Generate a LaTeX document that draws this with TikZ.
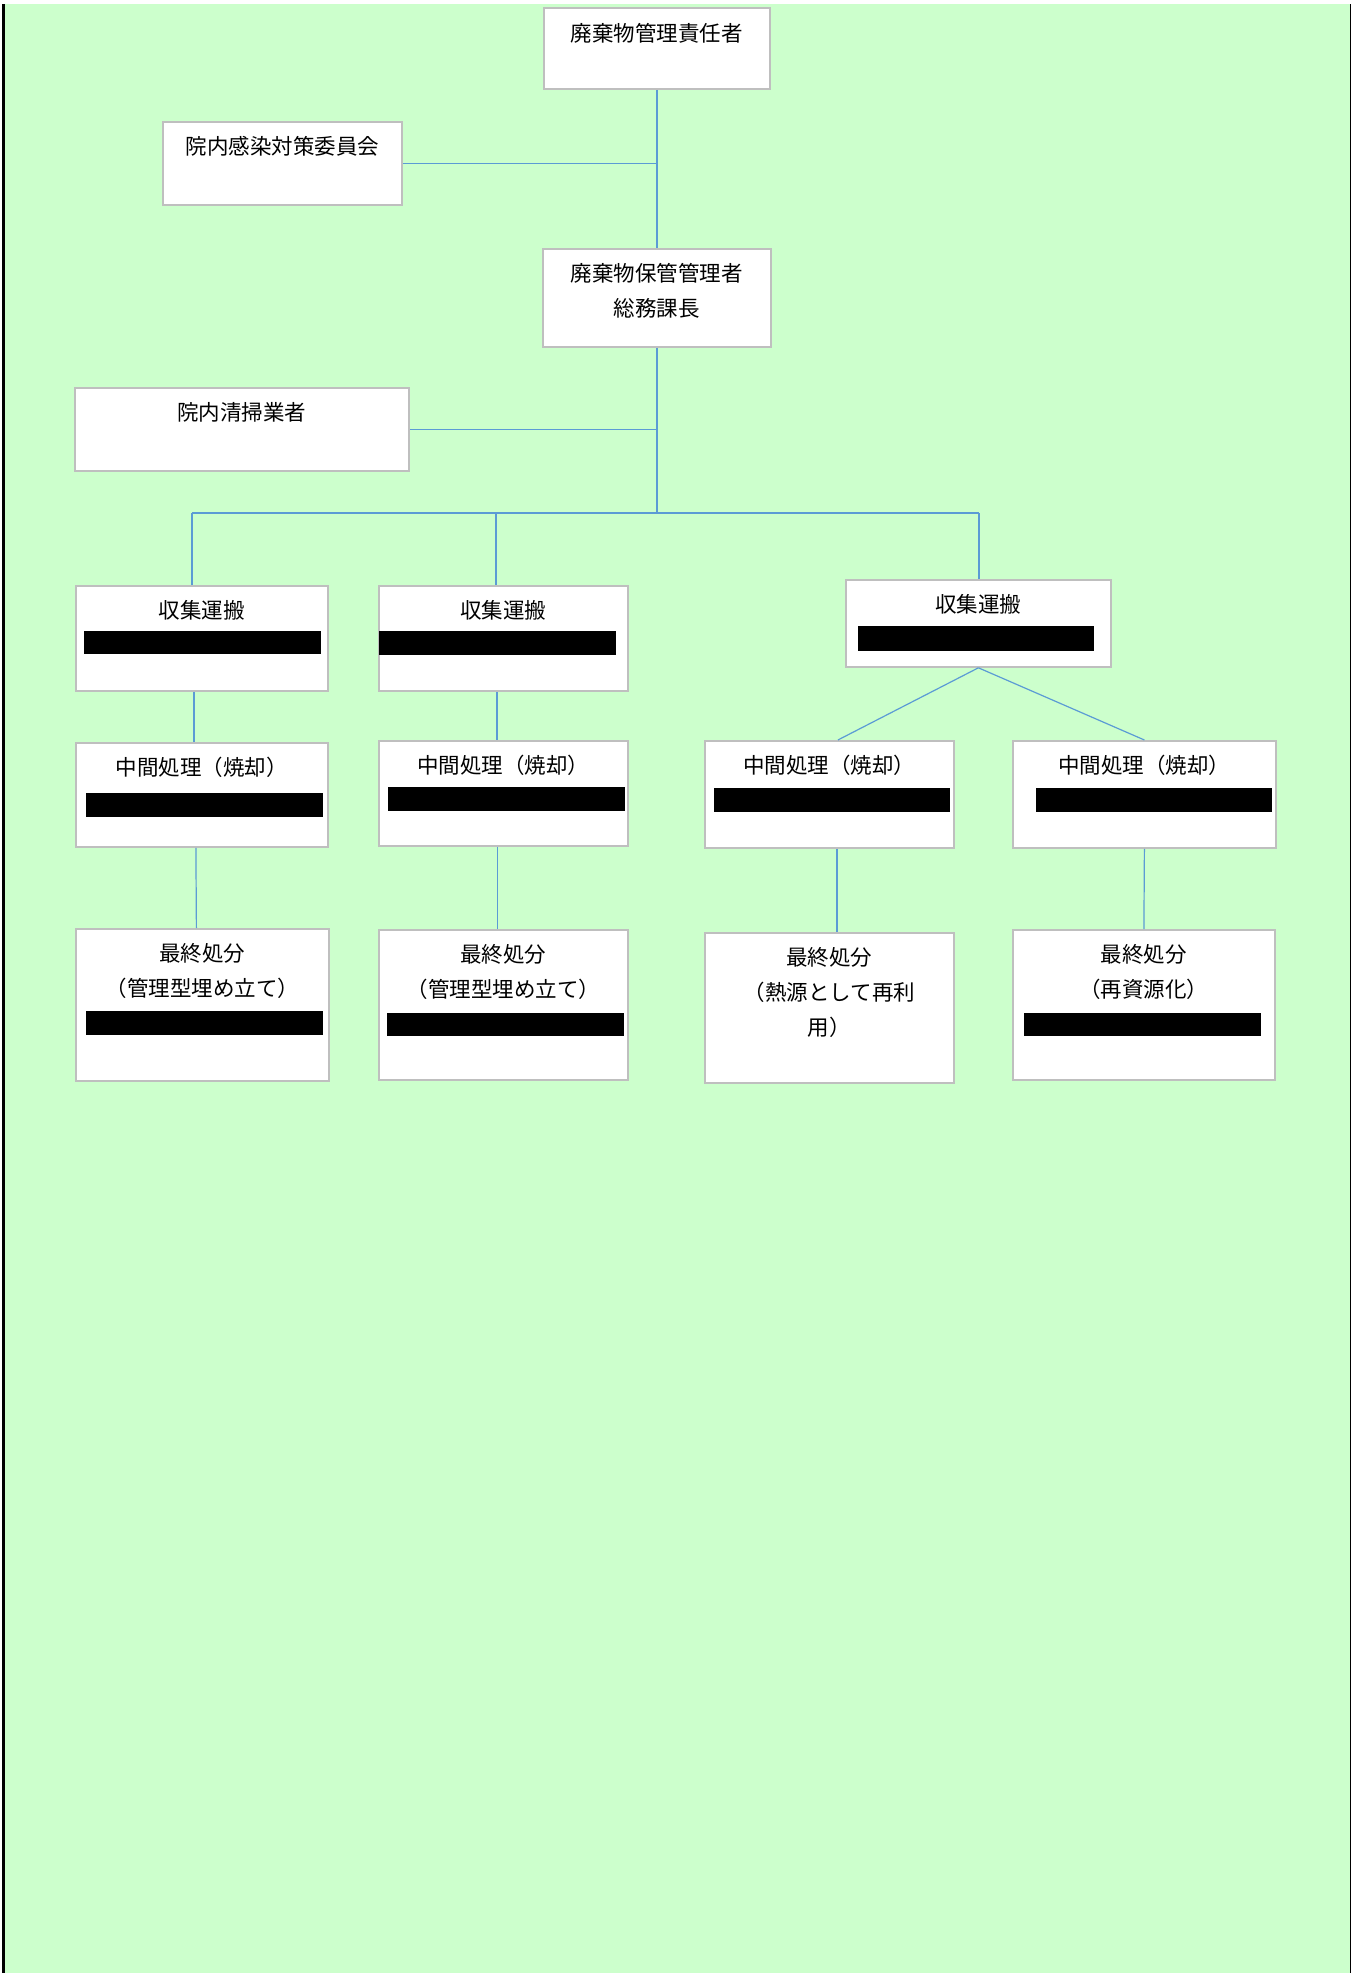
\documentclass[tikz,border=0pt]{standalone}
\usepackage{xcolor}
\usepackage{fontspec}
\usepackage{tikz}
\newfontfamily\jpfont{Noto Sans CJK JP}
\definecolor{bggreen}{RGB}{204,255,204}
\definecolor{boxgray}{RGB}{191,191,191}
\definecolor{linkblue}{RGB}{91,155,213}
\newcommand{\orgtext}[3]{\parbox[c][#2pt][t]{#1pt}{\centering\rule{0pt}{16.5pt}#3}}
\tikzset{orgbox/.style={draw=boxgray, line width=0.9pt, fill=white, inner sep=0pt, anchor=north west, font=\jpfont\fontsize{10.75}{17.5}\selectfont},
  link/.style={draw=linkblue, line width=0.6pt}}

\begin{document}
\begin{tikzpicture}[x=0.5pt,y=-0.5pt]
\useasboundingbox (0,0) rectangle (1351,1973);
\fill[white] (0,0) rectangle (1351,1973);
\fill[bggreen] (3,4) rectangle (1350,1973);
\fill[black] (2,4) rectangle (4.5,1973);
\fill[black] (1350,4) rectangle (1351,1973);
\node[orgbox] (resp) at (543,7.5) {\orgtext{113}{40.25}{廃棄物管理責任者}};
\node[orgbox] (committee) at (162,121) {\orgtext{119.5}{41.5}{院内感染対策委員会}};
\node[orgbox] (keeper) at (542,248) {\orgtext{114}{49}{廃棄物保管管理者\\総務課長}};
\node[orgbox] (cleaner) at (74,387) {\orgtext{167}{41.5}{院内清掃業者}};
\node[orgbox] (coll1) at (75,585) {\orgtext{126}{52.5}{収集運搬}};
\node[orgbox] (coll2) at (378,585) {\orgtext{124.5}{52.5}{収集運搬}};
\node[orgbox] (coll3) at (845,579) {\orgtext{132.5}{43.5}{収集運搬}};
\node[orgbox] (mid1) at (75,742) {\orgtext{126}{52}{中間処理（焼却）}};
\node[orgbox] (mid2) at (378,740) {\orgtext{124.5}{52.5}{中間処理（焼却）}};
\node[orgbox] (mid3) at (704,740) {\orgtext{124.5}{53.5}{中間処理（焼却）}};
\node[orgbox] (mid4) at (1012,740) {\orgtext{131.5}{53.5}{中間処理（焼却）}};
\node[orgbox] (fin1) at (75,928) {\orgtext{126.5}{76}{最終処分\\（管理型埋め立て）}};
\node[orgbox] (fin2) at (378,929) {\orgtext{124.5}{75}{最終処分\\（管理型埋め立て）}};
\node[orgbox] (fin3) at (704,932) {\orgtext{124.5}{75}{最終処分\\（熱源として再利\\用）}};
\node[orgbox] (fin4) at (1012,929) {\orgtext{131}{75}{最終処分\\（再資源化）}};
\fill (84,631) rectangle (321,654);
\fill (379,631) rectangle (616,655);
\fill (858,626) rectangle (1094,651);
\fill (86,793) rectangle (323,817);
\fill (388,787) rectangle (625,811);
\fill (714,788) rectangle (950,812);
\fill (1036,788) rectangle (1272,812);
\fill (86,1011) rectangle (323,1035);
\fill (387,1013) rectangle (624,1036);
\fill (1024,1013) rectangle (1261,1036);
\coordinate (drop1) at (192,513);
\coordinate (drop2) at (496,513);
\coordinate (drop3) at (979,513);
\draw[link] (resp.south) -- (keeper.north);
\draw[link] (committee.east) -- (committee.east -| resp.south);
\draw[link] (cleaner.east) -- (cleaner.east -| keeper.south);
\draw[link] (keeper.south) -- (keeper.south |- drop1);
\draw[link] (drop1) -- (drop3);
\draw[link] (drop1) -- (drop1 |- coll1.north);
\draw[link] (drop2) -- (drop2 |- coll2.north);
\draw[link] (drop3) -- (drop3 |- coll3.north);
\draw[link] ([xshift=-4pt]coll1.south) -- ([xshift=-4pt]mid1.north);
\draw[link] ([xshift=-3pt]mid1.south) -- ([xshift=-3pt]fin1.north);
\draw[link] ([xshift=-3.25pt]coll2.south) -- ([xshift=-3.25pt]mid2.north);
\draw[link] ([xshift=-3pt]mid2.south) -- ([xshift=-3pt]fin2.north);
\draw[link] (coll3.south) -- ([xshift=4.25pt]mid3.north);
\draw[link] (coll3.south) -- (mid4.north);
\draw[link] ([xshift=3.75pt]mid3.south) -- ([xshift=3.75pt]fin3.north);
\draw[link] (mid4.south) -- (fin4.north);
\end{tikzpicture}
\end{document}
